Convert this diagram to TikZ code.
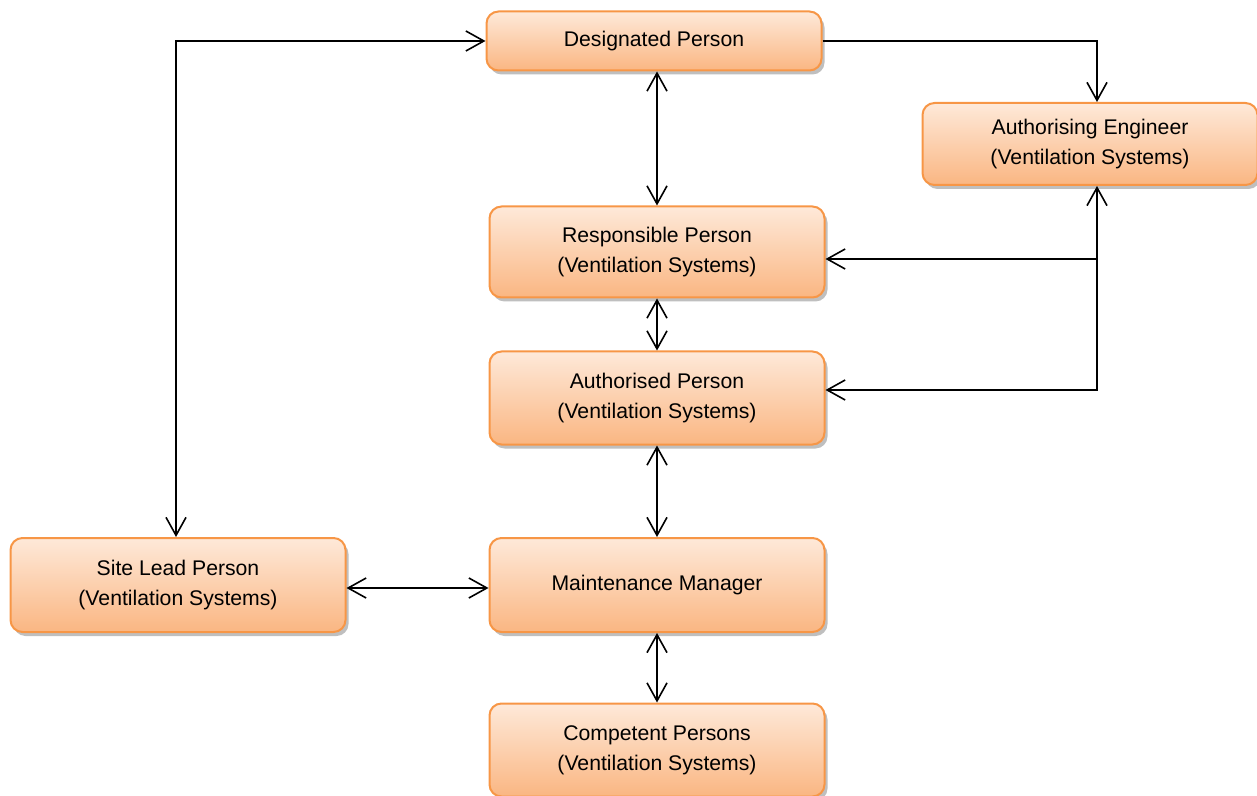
\documentclass[tikz,border=0pt]{standalone}
\usepackage{fontspec}
\setmainfont{Liberation Sans}
\usetikzlibrary{arrows.meta,shadows,calc}
\definecolor{boxborder}{RGB}{247,150,70}
\definecolor{boxtop}{RGB}{254,233,217}
\definecolor{boxbot}{RGB}{250,182,130}
\tikzset{
  rolebox/.style={draw=boxborder, line width=1pt, rounded corners=6pt,
    top color=boxtop, bottom color=boxbot, minimum width=167.5pt,
    align=center, font=\fontsize{10.6}{15}\selectfont,
    drop shadow={shadow xshift=1.5pt, shadow yshift=-2pt, opacity=0.25, fill=black}},
  link/.style={line width=0.8pt, black},
  >={Straight Barb[length=9pt,width=10pt,line width=0.8pt]}
}
\begin{document}
\begin{tikzpicture}[x=0.5pt,y=-0.5pt]
\useasboundingbox (0,0) rectangle (1257,796);
\node[rolebox, minimum height=29.5pt] (DP) at (654,41) {Designated Person};
\node[rolebox, minimum height=41pt] (AE) at (1090,144) {Authorising Engineer\\(Ventilation Systems)};
\node[rolebox, minimum height=45.5pt] (RP) at (657,252) {Responsible Person\\(Ventilation Systems)};
\node[rolebox, minimum height=46.5pt] (AP) at (657,398) {Authorised Person\\(Ventilation Systems)};
\node[rolebox, minimum height=47pt] (SL) at (178,585) {Site Lead Person\\(Ventilation Systems)};
\node[rolebox, minimum height=47pt] (MM) at (657,585) {Maintenance Manager};
\node[rolebox, minimum height=46.5pt] (CP) at (657,750) {Competent Persons\\(Ventilation Systems)};
\coordinate (aeTop) at ($(AE.north)+(7,0)$);
\coordinate (aeBot) at ($(AE.south)+(7,0)$);
\coordinate (slTop) at ($(SL.north)+(-2,0)$);
\coordinate (rpIn) at ($(RP.east)+(0,7)$);
\coordinate (apIn) at ($(AP.east)+(0,-8)$);
\coordinate (jRP) at (aeBot |- rpIn);
\coordinate (jAP) at (aeBot |- apIn);
\draw[link, <->] (slTop) |- (DP.west);
\draw[link, ->] (DP.east) -| (aeTop);
\draw[link, <->] (DP.south -| RP.north) -- (RP.north);
\draw[link, <->] (RP.south) -- (AP.north);
\draw[link, <->] (AP.south) -- (MM.north);
\draw[link, <->] (MM.south) -- (CP.north);
\draw[link, <->] ($(SL.east)+(0,3)$) -- ($(MM.west)+(0,3)$);
\draw[link, <->] (aeBot) -- (jAP) -- (apIn);
\draw[link, ->] (jRP) -- (rpIn);
\end{tikzpicture}
\end{document}
